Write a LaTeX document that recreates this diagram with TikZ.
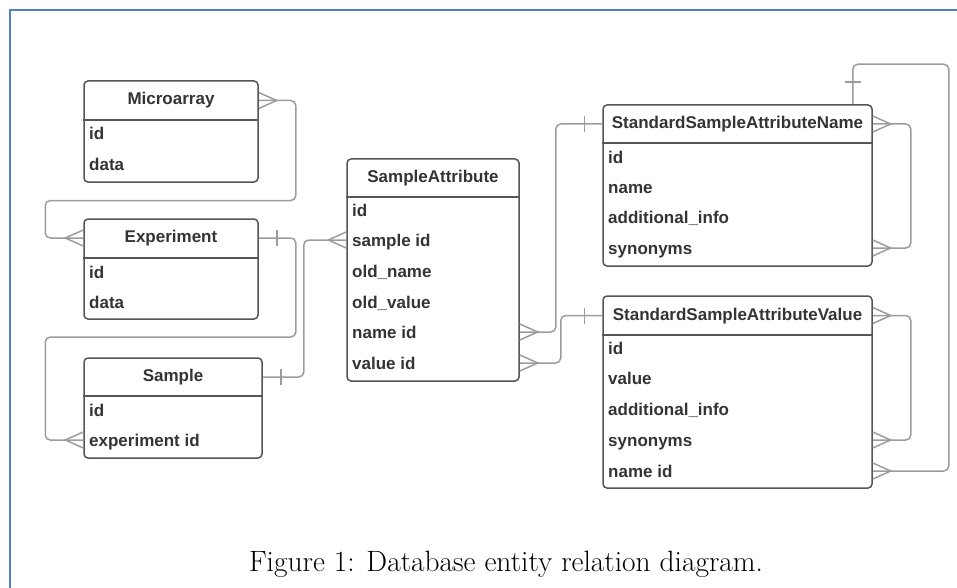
\documentclass[tikz,border=0pt]{standalone}
\usepackage{fontspec}
\newfontfamily\ersans{Liberation Sans}
\definecolor{boxgray}{HTML}{555555}
\definecolor{linkgray}{HTML}{9C9C9C}
\definecolor{textgray}{HTML}{343434}
\definecolor{frameblue}{HTML}{4F81BD}
\begin{document}
\begin{tikzpicture}[x=1pt, y=-1pt,
  ent/.style={draw=boxgray,line width=1.5pt,rounded corners=4pt,fill=white,inner sep=0pt},
  etitle/.style={font=\ersans\bfseries\fontsize{17}{20}\selectfont,text=textgray,inner sep=0pt,text height=12.5pt,text depth=3.5pt},
  efield/.style={etitle,anchor=west,text height=15pt,text depth=2pt},
  link/.style={draw=linkgray,line width=1.5pt,rounded corners=5pt},
  crowfoot/.pic={\draw[draw=linkgray,line width=1.5pt] (0,-8) -- (18,0) -- (0,8);},
  onebar/.pic={\draw[draw=linkgray,line width=1.5pt] (18,-8) -- (18,8);}]
  \useasboundingbox (0,0) rectangle (957,588);
  \draw[frameblue,line width=1.5pt] (10,588) -- (10,10) -- (957,10);
  % left column
  \node[ent,minimum width=174pt,minimum height=101pt] (micro) at (171,131.5) {};
  \node[etitle] (micro-t) at (171,100.5) {Microarray};
  \draw[boxgray,line width=1.5pt] (micro.west |- 0,120) -- (micro.east |- 0,120);
  \node[efield] (micro-id) at (89,133) {id};
  \node[efield] (micro-data) at (89,164) {data};
  \node[ent,minimum width=174pt,minimum height=100pt] (exp) at (171,269) {};
  \node[etitle] (exp-t) at (171,238) {Experiment};
  \draw[boxgray,line width=1.5pt] (exp.west |- 0,258) -- (exp.east |- 0,258);
  \node[efield] (exp-id) at (89,272) {id};
  \node[efield] (exp-data) at (89,302) {data};
  \node[ent,minimum width=178pt,minimum height=100pt] (smp) at (173,408) {};
  \node[etitle] (smp-t) at (173,377) {Sample};
  \draw[boxgray,line width=1.5pt] (smp.west |- 0,396) -- (smp.east |- 0,396);
  \node[efield] (smp-id) at (89,410) {id};
  \node[efield] (smp-expid) at (89,440) {experiment id};
  % middle
  \node[ent,minimum width=172pt,minimum height=222pt] (sa) at (433,270) {};
  \node[etitle] (sa-t) at (433,178) {SampleAttribute};
  \draw[boxgray,line width=1.5pt] (sa.west |- 0,197) -- (sa.east |- 0,197);
  \node[efield] (sa-id) at (352,210) {id};
  \node[efield] (sa-sid) at (352,240) {sample id};
  \node[efield] (sa-oname) at (352,271) {old\_name};
  \node[efield] (sa-ovalue) at (352,302) {old\_value};
  \node[efield] (sa-nid) at (352,332) {name id};
  \node[efield] (sa-vid) at (352,363) {value id};
  % right column
  \node[ent,minimum width=269pt,minimum height=161pt] (sn) at (737.5,185.5) {};
  \node[etitle] (sn-t) at (737.5,124) {StandardSampleAttributeName};
  \draw[boxgray,line width=1.5pt] (sn.west |- 0,143) -- (sn.east |- 0,143);
  \node[efield] (sn-id) at (608,157) {id};
  \node[efield] (sn-name) at (608,187) {name};
  \node[efield] (sn-info) at (608,217) {additional\_info};
  \node[efield] (sn-syn) at (608,248) {synonyms};
  \node[ent,minimum width=269pt,minimum height=192pt] (sv) at (737.5,392) {};
  \node[etitle] (sv-t) at (737.5,315.5) {StandardSampleAttributeValue};
  \draw[boxgray,line width=1.5pt] (sv.west |- 0,335) -- (sv.east |- 0,335);
  \node[efield] (sv-id) at (608,348) {id};
  \node[efield] (sv-value) at (608,378) {value};
  \node[efield] (sv-info) at (608,409) {additional\_info};
  \node[efield] (sv-syn) at (608,440) {synonyms};
  \node[efield] (sv-nid) at (608,471) {name id};
  % relations
  \draw[link] (micro-t -| micro.east) -- ++(37,0) -- ++(0,100) -| ([xshift=-38pt]exp-t -| exp.west) -- (exp-t -| exp.west);
  \pic at (micro-t -| micro.east) {crowfoot};
  \pic[xscale=-1] at (exp-t -| exp.west) {crowfoot};
  \draw[link] (exp-t -| exp.east) -- ++(37,0) -- ++(0,99) -| ([xshift=-38pt]smp-expid -| smp.west) -- (smp-expid -| smp.west);
  \pic at (exp-t -| exp.east) {onebar};
  \pic[xscale=-1] at (smp-expid -| smp.west) {crowfoot};
  \draw[link] (smp-t -| smp.east) -- ++(41,0) |- (sa-sid -| sa.west);
  \pic at (smp-t -| smp.east) {onebar};
  \pic[xscale=-1] at (sa-sid -| sa.west) {crowfoot};
  \draw[link] (sa-nid -| sa.east) -- ++(36,0) |- (sn-t -| sn.west);
  \pic at (sa-nid -| sa.east) {crowfoot};
  \pic[xscale=-1] at (sn-t -| sn.west) {onebar};
  \draw[link] (sa-vid -| sa.east) -- ++(41,0) |- (sv-t -| sv.west);
  \pic at (sa-vid -| sa.east) {crowfoot};
  \pic[xscale=-1] at (sv-t -| sv.west) {onebar};
  \draw[link] (sn-t -| sn.east) -- ++(38,0) |- (sn-syn -| sn.east);
  \pic at (sn-t -| sn.east) {crowfoot};
  \pic at (sn-syn -| sn.east) {crowfoot};
  \draw[link] (sv-t -| sv.east) -- ++(38,0) |- (sv-syn -| sv.east);
  \pic at (sv-t -| sv.east) {crowfoot};
  \pic at (sv-syn -| sv.east) {crowfoot};
  \draw[link] ([xshift=-20pt]sn.north east) -- ++(0,-40) -- ++(96,0) |- (sv-nid -| sv.east);
  \pic[rotate=90] at ([xshift=-20pt,yshift=4pt]sn.north east) {onebar};
  \pic at (sv-nid -| sv.east) {crowfoot};
  % caption
  \node[font=\fontsize{29.4}{33}\selectfont] (cap) at (506,564) {Figure 1: Database entity relation diagram.};
\end{tikzpicture}
\end{document}
